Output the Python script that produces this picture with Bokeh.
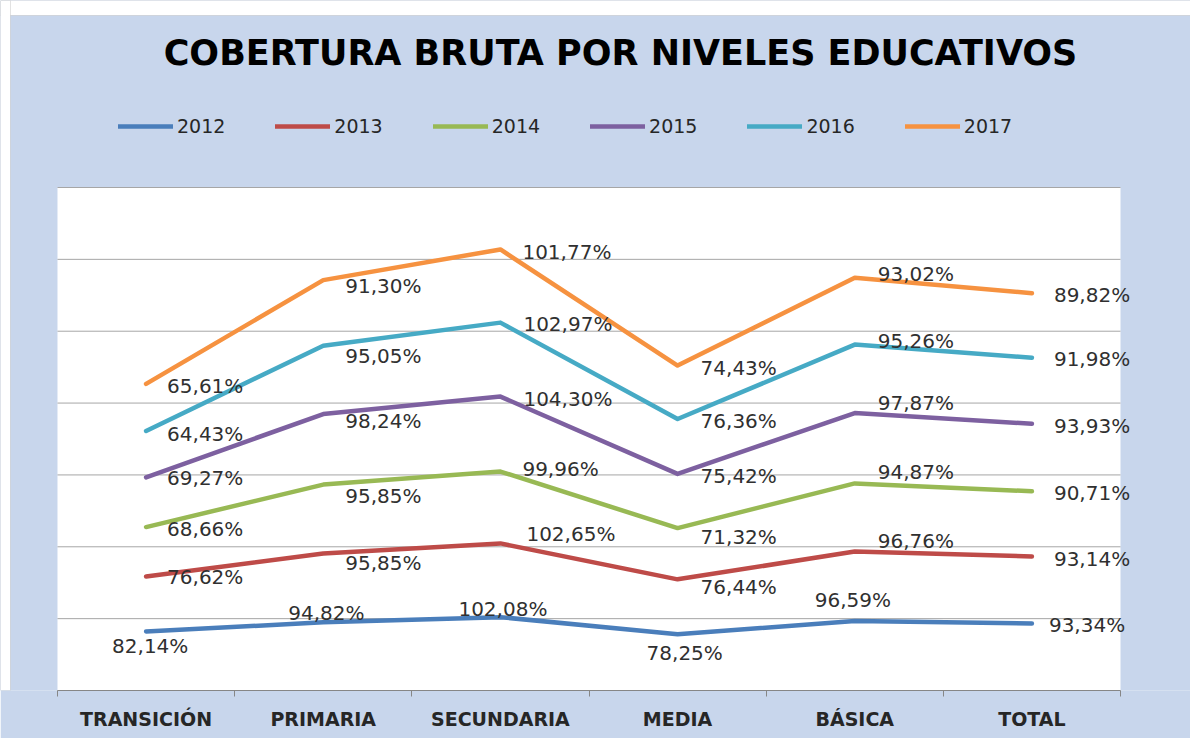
import numpy as np
from bokeh.plotting import figure
from bokeh.models import (ColumnDataSource, LabelSet, Label, Legend, LegendItem,
                          FixedTicker, Range1d, BoxAnnotation)
from bokeh.core.properties import value
from bokeh.embed import file_html
from bokeh.resources import INLINE

categories = ["TRANSICIÓN", "PRIMARIA", "SECUNDARIA", "MEDIA", "BÁSICA", "TOTAL"]
years = ["2012", "2013", "2014", "2015", "2016", "2017"]
v2012 = [82.14, 94.82, 102.08, 78.25, 96.59, 93.34]
v2013 = [76.62, 95.85, 102.65, 76.44, 96.76, 93.14]
v2014 = [68.66, 95.85, 99.96, 71.32, 94.87, 90.71]
v2015 = [69.27, 98.24, 104.30, 75.42, 97.87, 93.93]
v2016 = [64.43, 95.05, 102.97, 76.36, 95.26, 91.98]
v2017 = [65.61, 91.30, 101.77, 74.43, 93.02, 89.82]
series = [v2012, v2013, v2014, v2015, v2016, v2017]
grid_values = [100, 200, 300, 400, 500, 600, 700]
title_text = "COBERTURA BRUTA POR NIVELES EDUCATIVOS"

colors = ["#4A7EBB", "#BE4B48", "#98B954", "#7D60A0", "#46AAC5", "#F69240"]

# label placement (pixels): dx = offset to left edge of label, dy = downward offset of label centre
label_dx = [[-34, -35, -42, -31, -40, 17],
            [21, 22, 26, 23, 23, 22],
            [21, 22, 22, 23, 23, 22],
            [21, 22, 23, 23, 23, 22],
            [21, 22, 23, 23, 23, 22],
            [21, 22, 22, 23, 23, 22]]
label_dy = [[15, -9, -8, 19, -21, 2],
            [1, 10, -9, 8, -11, 2],
            [2, 11, -3, 9, -11, 2],
            [1, 7, 2, 2, -10, 2],
            [3, 10, 1, 2, -4, 1],
            [2, 6, 3, 2, -4, 2]]

FONT = "DejaVu Sans"
NCAT = len(categories)
YMAX = 700

# page geometry (pixels in the screenshot)
FIG_L, FIG_T = 0, 0
FRAME_R = 1190
PA_L, PA_R, PA_T, PA_B = 57, 1120, 187, 690   # white plot area
sx = (PA_R - PA_L) / NCAT
sy = (PA_B - PA_T) / YMAX
def X(px): return (px - PA_L) / sx
def Y(py): return (PA_B - py) / sy

xs = np.arange(NCAT) + 0.5
cum = np.cumsum(np.array(series), axis=0)

p = figure(x_range=Range1d(X(FIG_L), X(FRAME_R)), y_range=Range1d(0, Y(FIG_T)),
           frame_width=FRAME_R - FIG_L, frame_height=PA_B - FIG_T,
           min_border_left=0, min_border_right=0, min_border_top=0, min_border_bottom=48,
           output_backend="svg", toolbar_location=None)

BG = "#C8D6EC"
p.background_fill_color = BG
p.border_fill_color = BG
p.outline_line_color = None
p.yaxis.visible = False
p.xgrid.visible = False
p.ygrid.visible = False

# white page strips around the chart area and the white plot area
p.add_layout(BoxAnnotation(bottom=Y(15), fill_color="white", fill_alpha=1,
                           line_color="#A0A0A0", line_width=1, level="underlay"))
p.add_layout(BoxAnnotation(right=X(10), fill_color="white", fill_alpha=1,
                           line_color="#A0A0A0", line_width=1, level="underlay"))
p.add_layout(BoxAnnotation(left=0, right=NCAT, bottom=0, top=YMAX, fill_color="white",
                           fill_alpha=1, line_color=None, level="underlay"))

p.segment(x0=[0] * len(grid_values), x1=[NCAT] * len(grid_values),
          y0=grid_values, y1=grid_values, line_color="#A6A6A6", line_width=1)

p.xaxis.bounds = (0, NCAT)
p.xaxis.ticker = FixedTicker(ticks=list(xs), minor_ticks=list(range(NCAT + 1)))
p.xaxis.major_label_overrides = {float(x): c for x, c in zip(xs, categories)}
p.xaxis.major_tick_line_color = None
p.xaxis.minor_tick_line_color = "#868686"
p.xaxis.minor_tick_in = 0
p.xaxis.minor_tick_out = 6
p.xaxis.axis_line_color = "#868686"
p.xaxis.major_label_text_font = FONT
p.xaxis.major_label_text_font_style = "bold"
p.xaxis.major_label_text_font_size = "19px"
p.xaxis.major_label_text_color = "#262626"
p.xaxis.major_label_standoff = 11

items = []
for i, yr in enumerate(years):
    r = p.line(xs, cum[i], line_color=colors[i], line_width=4.5,
               line_join="round", line_cap="round")
    items.append(LegendItem(label=yr, renderers=[r]))

lx, ly, lt, lxo, lyo = [], [], [], [], []
for i in range(len(years)):
    for j in range(NCAT):
        lx.append(xs[j])
        ly.append(cum[i][j])
        lt.append(f"{series[i][j]:.2f}".replace(".", ",") + "%")
        lxo.append(label_dx[i][j])
        lyo.append(-label_dy[i][j])
src = ColumnDataSource(dict(x=lx, y=ly, text=lt, xo=lxo, yo=lyo))
p.add_layout(LabelSet(x="x", y="y", text="text", x_offset="xo", y_offset="yo", source=src,
                      text_align="left", text_baseline="middle",
                      text_font=value(FONT), text_font_size="20px", text_color="#303030"))

p.add_layout(Label(x=X(620), y=Y(52), text=title_text, text_align="center",
                   text_baseline="middle", text_font=FONT, text_font_style="bold",
                   text_font_size="35px", text_color="#000000"))

legend = Legend(items=items, orientation="horizontal",
                location=(118 - FIG_L, PA_B - 137),
                label_text_font=FONT, label_text_font_size="19px", label_text_color="#262626",
                glyph_width=55, glyph_height=20, label_height=20, label_standoff=4,
                spacing=50, padding=0, margin=0,
                border_line_color=None, background_fill_alpha=0)
p.add_layout(legend)

open("out.html", "w").write(file_html(p, INLINE))
